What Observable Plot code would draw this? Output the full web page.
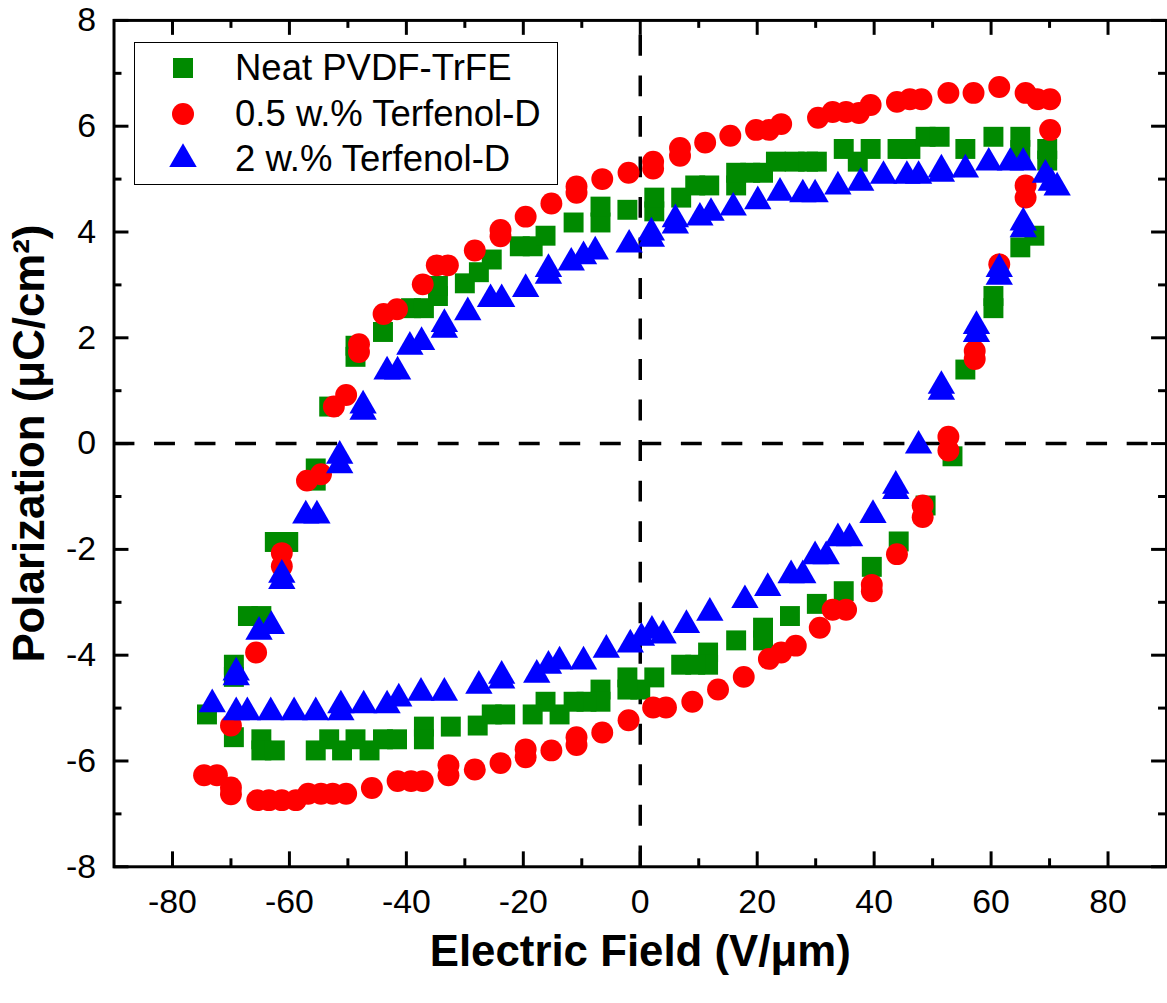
<!DOCTYPE html>
<html>
<head>
<meta charset="utf-8">
<script src="https://cdn.jsdelivr.net/npm/d3@7"></script>
<script src="https://cdn.jsdelivr.net/npm/@observablehq/plot@0.6"></script>
<style>
html, body { margin: 0; padding: 0; background: #fff; overflow: hidden; }
#wrap { position: relative; width: 1167px; height: 1003px; overflow: hidden; font-family: "Liberation Sans", Arial, sans-serif; }
#legend { position: absolute; left: 134px; top: 42px; width: 424px; height: 143px; border: 1.5px solid #000; box-sizing: border-box; background: #fff; }
.row { position: absolute; left: 0; height: 40px; }
.row svg { position: absolute; left: 28px; top: 0; }
.row span { position: absolute; left: 100px; top: 0; font-size: 36.5px; white-space: nowrap; color: #000; line-height: 40px; }
</style>
</head>
<body>
<div id="wrap"></div>
<script>
// ---- data (Electric Field V/µm, Polarization µC/cm²) ----
const neat = [[-74.1,-5.12],[-69.5,-5.55],[-69.5,-4.41],[-69.5,-4.18],[-67.1,-3.26],[-64.8,-3.26],[-64.8,-5.59],[-64.8,-5.80],[-62.5,-5.80],[-62.5,-1.86],[-60.2,-1.86],[-55.5,-0.70],[-55.5,-0.47],[-53.2,0.70],[-48.7,1.64],[-48.7,1.85],[-44.0,2.11],[-39.2,2.56],[-37.0,2.56],[-34.6,2.79],[-34.6,2.98],[-30.0,3.03],[-27.6,3.24],[-25.4,3.48],[-20.6,3.73],[-18.4,3.73],[-16.2,3.93],[-11.4,4.18],[-6.8,4.18],[-6.8,4.48],[-2.2,4.42],[2.4,4.39],[2.4,4.65],[7.0,4.65],[9.4,4.88],[11.8,4.88],[16.4,4.88],[16.4,5.12],[18.8,5.12],[21.0,5.12],[23.2,5.33],[26.4,5.33],[28.7,5.33],[30.2,5.33],[34.8,5.57],[37.2,5.33],[39.4,5.57],[44.0,5.57],[46.2,5.57],[48.8,5.80],[51.2,5.80],[55.6,5.57],[60.4,5.80],[65.0,5.80],[65.0,5.55],[69.6,5.57],[69.6,5.35],[67.4,3.93],[65.0,3.71],[60.4,2.79],[60.4,2.56],[55.6,1.40],[53.4,-0.24],[48.8,-1.17],[44.2,-1.85],[39.6,-2.33],[34.8,-2.79],[30.2,-3.03],[25.6,-3.26],[21.0,-3.48],[21.0,-3.72],[16.4,-3.72],[11.6,-3.95],[11.6,-4.18],[9.4,-4.18],[7.0,-4.18],[2.4,-4.42],[0.0,-4.65],[-2.2,-4.42],[-2.2,-4.65],[-6.8,-4.65],[-6.8,-4.88],[-9.2,-4.88],[-11.4,-4.88],[-13.8,-5.12],[-16.2,-4.88],[-18.4,-5.12],[-23.1,-5.12],[-25.4,-5.12],[-27.8,-5.33],[-32.4,-5.35],[-37.0,-5.35],[-37.0,-5.59],[-41.6,-5.59],[-44.0,-5.59],[-46.3,-5.80],[-48.7,-5.59],[-51.0,-5.80],[-53.2,-5.59],[-55.5,-5.80]];

const half = [[-70.0,-5.33],[-65.7,-3.95],[-61.3,-2.32],[-61.3,-2.07],[-57.0,-0.70],[-54.6,-0.58],[-52.4,0.70],[-50.3,0.92],[-48.1,1.73],[-48.1,1.88],[-43.9,2.45],[-41.6,2.54],[-37.2,3.01],[-34.8,3.37],[-32.9,3.37],[-28.3,3.65],[-23.9,3.92],[-23.9,4.04],[-19.6,4.29],[-15.2,4.54],[-10.9,4.74],[-10.9,4.86],[-6.5,5.0],[-2.0,5.12],[2.2,5.2],[2.2,5.33],[6.8,5.44],[6.8,5.59],[11.1,5.69],[15.4,5.82],[19.8,5.93],[22.0,5.93],[24.1,6.04],[30.4,6.16],[32.9,6.27],[35.2,6.27],[37.4,6.25],[39.4,6.40],[43.9,6.46],[46.1,6.51],[48.1,6.51],[52.7,6.63],[57.0,6.63],[61.4,6.74],[65.9,6.63],[67.9,6.51],[70.1,6.51],[70.1,5.93],[65.9,4.88],[65.9,4.65],[61.4,3.39],[57.2,1.75],[57.2,1.60],[52.7,0.13],[52.7,-0.13],[48.3,-1.17],[48.3,-1.39],[43.9,-2.09],[39.6,-2.67],[39.6,-2.79],[35.2,-3.14],[32.9,-3.14],[30.7,-3.48],[26.6,-3.82],[24.1,-3.95],[22.0,-4.07],[17.7,-4.41],[13.3,-4.65],[8.9,-4.88],[4.4,-4.99],[2.2,-4.99],[-2.0,-5.23],[-6.5,-5.46],[-10.9,-5.55],[-10.9,-5.70],[-15.2,-5.80],[-19.6,-5.78],[-19.6,-5.93],[-23.9,-6.04],[-28.3,-6.16],[-32.8,-6.08],[-32.8,-6.27],[-37.2,-6.38],[-39.2,-6.38],[-41.5,-6.38],[-45.9,-6.51],[-50.3,-6.62],[-52.6,-6.62],[-54.6,-6.62],[-56.8,-6.62],[-58.9,-6.74],[-61.3,-6.74],[-63.5,-6.74],[-65.5,-6.74],[-70.0,-6.50],[-70.0,-6.63],[-72.4,-6.27],[-74.6,-6.27]];

const two = [[-73.2,-4.93],[-69.1,-5.08],[-67.2,-5.08],[-63.2,-5.08],[-59.2,-5.08],[-55.5,-5.08],[-51.2,-5.08],[-51.2,-4.95],[-47.3,-4.95],[-43.3,-4.95],[-41.3,-4.82],[-37.5,-4.71],[-33.5,-4.71],[-27.6,-4.58],[-23.7,-4.39],[-23.7,-4.48],[-17.7,-4.37],[-15.7,-4.20],[-13.8,-4.12],[-9.7,-4.12],[-5.8,-3.90],[-1.7,-3.80],[0.2,-3.67],[2.0,-3.54],[3.9,-3.63],[7.9,-3.43],[11.9,-3.20],[17.9,-2.96],[21.8,-2.73],[25.8,-2.49],[27.8,-2.49],[29.9,-2.13],[31.8,-2.13],[33.8,-1.79],[35.8,-1.79],[39.8,-1.35],[43.7,-0.80],[43.7,-0.90],[47.6,-0.04],[51.5,1.09],[51.5,0.98],[57.5,2.07],[57.5,2.22],[61.4,3.30],[61.4,3.15],[65.5,4.18],[65.5,4.05],[69.3,5.08],[70.3,4.93],[71.3,4.84],[65.5,5.31],[63.3,5.31],[59.6,5.31],[55.6,5.18],[51.5,5.18],[51.5,5.10],[47.6,5.06],[45.6,5.06],[41.6,5.06],[37.7,4.93],[33.8,4.86],[29.9,4.71],[27.8,4.71],[23.9,4.74],[20.1,4.58],[15.9,4.46],[12.1,4.36],[10.2,4.27],[6.0,4.24],[6.0,4.12],[1.9,3.99],[1.9,3.87],[-1.9,3.76],[-7.7,3.63],[-9.7,3.54],[-11.8,3.42],[-15.7,3.30],[-15.7,3.17],[-19.6,2.92],[-23.7,2.73],[-25.6,2.73],[-29.5,2.48],[-33.5,2.26],[-33.5,2.15],[-37.4,1.92],[-39.4,1.83],[-41.5,1.36],[-43.3,1.36],[-47.4,0.72],[-47.4,0.60],[-51.4,-0.23],[-51.4,-0.41],[-55.3,-1.36],[-57.2,-1.36],[-61.3,-2.48],[-61.3,-2.60],[-63.1,-3.45],[-65.2,-3.56],[-69.1,-4.33],[-69.1,-4.42]];

const seriesNames = ["Neat PVDF-TrFE", "0.5 w.% Terfenol-D", "2 w.% Terfenol-D"];
const xDomain = [-90, 90];
const yDomain = [-8, 8];
const xMajor = [-80, -60, -40, -20, 0, 20, 40, 60, 80];
const xMinor = [-70, -50, -30, -10, 10, 30, 50, 70];
const yMajor = [-8, -6, -4, -2, 0, 2, 4, 6, 8];
const yMinor = [-7, -5, -3, -1, 1, 3, 5, 7];
const xTitle = "Electric Field (V/μm)";
const yTitle = "Polarization (μC/cm²)";

// ---- styles ----
const colors = ["#008a00", "#ff0000", "#0000ff"];
const symbols = ["square", "circle", "triangle"];
const radii = [11.3, 11, 10.2];

const W = 1172, H = 1003;
const mL = 114, mR = 1, mT = 20, mB = 133;
const fw = W - mL - mR, fh = H - mT - mB;
const font = '"Liberation Sans", Arial, sans-serif';

const sets = [neat, half, two];
const dotMarks = sets.map((s, i) => Plot.dot(s, {
  x: d => d[0], y: d => d[1], symbol: () => symbols[i], r: radii[i],
  fill: colors[i], stroke: "none"
}));

const plot = Plot.plot({
  width: W, height: H,
  marginLeft: mL, marginRight: mR, marginTop: mT, marginBottom: mB,
  style: { fontFamily: font, background: "transparent", overflow: "visible" },
  x: { domain: xDomain, label: null },
  y: { domain: yDomain, label: null },
  symbol: { type: "identity" },
  marks: [
    Plot.ruleY([0], { y: d => d, stroke: "#000", strokeWidth: 3.5, strokeDasharray: "21,19.7" }),
    Plot.ruleX([0], { x: d => d, y1: yDomain[0], y2: yDomain[1], stroke: "#000", strokeWidth: 3.5, strokeDasharray: "21,19.7" }),
    ...dotMarks,
    // ticks inward on four sides
    Plot.tickX(xMajor, { x: d => d, insetTop: fh - 15, strokeWidth: 3, stroke: "#000" }),
    Plot.tickX(xMajor, { x: d => d, insetBottom: fh - 15, strokeWidth: 3, stroke: "#000" }),
    Plot.tickX(xMinor, { x: d => d, insetTop: fh - 8, strokeWidth: 3, stroke: "#000" }),
    Plot.tickX(xMinor, { x: d => d, insetBottom: fh - 8, strokeWidth: 3, stroke: "#000" }),
    Plot.tickY(yMajor, { y: d => d, insetRight: fw - 15, strokeWidth: 3, stroke: "#000" }),
    Plot.tickY(yMajor, { y: d => d, insetLeft: fw - 15, strokeWidth: 3, stroke: "#000" }),
    Plot.tickY(yMinor, { y: d => d, insetRight: fw - 8, strokeWidth: 3, stroke: "#000" }),
    Plot.tickY(yMinor, { y: d => d, insetLeft: fw - 8, strokeWidth: 3, stroke: "#000" }),
    Plot.frame({ stroke: "#000", strokeWidth: 3 }),
    Plot.axisX(xMajor, { anchor: "bottom", tickSize: 0, tickPadding: 22, fontSize: 34, tickFormat: d => String(d), label: null, fill: "#000" }),
    Plot.axisY(yMajor, { anchor: "left", tickSize: 0, tickPadding: 18, fontSize: 34, tickFormat: d => String(d), label: null, fill: "#000" }),
    Plot.text([xTitle], { text: d => d, frameAnchor: "bottom", dy: 100, fontSize: 44, fontWeight: "bold", fill: "#000", textAnchor: "middle" }),
    Plot.text([yTitle], { text: d => d, frameAnchor: "left", rotate: -90, dx: -84, fontSize: 44, fontWeight: "bold", fill: "#000", textAnchor: "middle" })
  ]
});

const wrap = document.getElementById("wrap");
wrap.appendChild(plot);

// legend (overlaid inside the frame, as in the reference)
const legend = document.createElement("div");
legend.id = "legend";
seriesNames.forEach((name, i) => {
  const row = document.createElement("div");
  row.className = "row";
  row.style.top = (5 + i * 45.5) + "px";
  const sym = { square: d3.symbolSquare, circle: d3.symbolCircle, triangle: d3.symbolTriangle }[symbols[i]];
  const path = d3.symbol(sym, Math.PI * radii[i] * radii[i])();
  const svg = d3.create("svg").attr("width", 40).attr("height", 40);
  svg.append("path").attr("d", path).attr("transform", "translate(20,20)").attr("fill", colors[i]);
  row.appendChild(svg.node());
  const span = document.createElement("span");
  span.textContent = name;
  row.appendChild(span);
  legend.appendChild(row);
});
wrap.appendChild(legend);
</script>
</body>
</html>
